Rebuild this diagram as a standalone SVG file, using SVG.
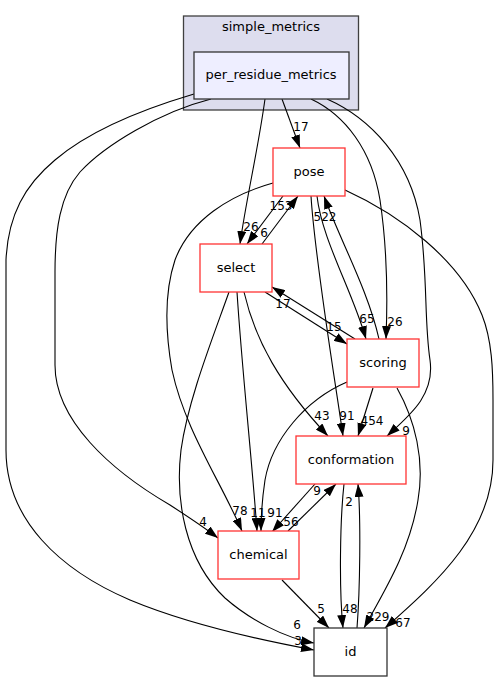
<svg xmlns="http://www.w3.org/2000/svg" width="499" height="681" viewBox="0 0 499 681">
<defs>
<style>
.nt{font-family:"DejaVu Sans","Liberation Sans",sans-serif;font-size:13px;text-anchor:middle;fill:#000}
.el{font-family:"DejaVu Sans","Liberation Sans",sans-serif;font-size:12px;text-anchor:middle;fill:#000}
.red{fill:#fff;stroke:#ff3333;stroke-width:1.3}
.blk{fill:#fff;stroke:#333333;stroke-width:1.3}
.e{fill:none;stroke:#000;stroke-width:1.1;marker-end:url(#ah)}
</style>
<marker id="ah" viewBox="0 0 13 9" refX="13" refY="4.5" markerWidth="13" markerHeight="9" markerUnits="userSpaceOnUse" orient="auto">
<path d="M0,0 L13,4.5 L0,9 z" fill="#000"/>
</marker>
</defs>
<rect width="499" height="681" fill="#fff"/>
<g id="cluster_simple_metrics">
<rect x="183.5" y="16" width="175" height="94" fill="#ddddee" stroke="#404040" stroke-width="1.3"/>
<text class="nt" x="271" y="31">simple_metrics</text>
</g>
<g id="connectors">
<path class="e" d="M282,99 L300,148"/>
<path class="e" d="M265,99 C258,150 246,200 240,244"/>
<path class="e" d="M311,99 C345,115 372,150 380,200 C386,240 388,290 386,339"/>
<path class="e" d="M327,99 C370,118 410,160 420,220 C428,280 424,320 430,360 C435,395 410,415 387,436"/>
<path class="e" d="M211,99 C160,112 105,145 80,172 C60,195 55,230 55,272 L55,365 C55,420 110,470 170,505 C190,518 205,528 218,538"/>
<path class="e" d="M194,94 C140,110 90,130 55,160 C25,185 8,215 6,260 L6,450 C6,520 60,570 130,600 C190,625 260,640 314,650"/>
<path class="e" d="M283,196 L247,244"/>
<path class="e" d="M262,244 L298,196"/>
<path class="e" d="M317,196 C322,240 352,290 366,339"/>
<path class="e" d="M379,339 C368,290 340,240 324,196"/>
<path class="e" d="M311,196 C315,260 335,380 343,436"/>
<path class="e" d="M273,183 C230,195 190,220 175,260 C165,290 165,330 172,370 C185,430 220,480 242,531"/>
<path class="e" d="M345,190 C400,215 460,260 482,315 C492,340 493,370 493,400 L493,460 C493,530 440,580 385,628"/>
<path class="e" d="M265,292 L347,344"/>
<path class="e" d="M355,339 L272,287"/>
<path class="e" d="M244,292 C255,340 280,385 328,436"/>
<path class="e" d="M237,292 C242,370 252,460 257,531"/>
<path class="e" d="M229,292 C212,340 188,400 181,450 C175,500 185,560 225,598 C250,620 285,638 314,643"/>
<path class="e" d="M373,388 L358,436"/>
<path class="e" d="M347,382 C305,400 272,440 265,480 C262,500 261,515 261,531"/>
<path class="e" d="M397,388 C415,420 425,460 418,500 C410,550 385,590 364,628"/>
<path class="e" d="M315,484 L272,532"/>
<path class="e" d="M288,531 L336,484"/>
<path class="e" d="M344,484 C340,520 339,590 343,628"/>
<path class="e" d="M357,628 C360,590 361,520 358,484"/>
<path class="e" d="M282,580 L329,628"/>
<text class="el" x="301" y="131">17</text>
<text class="el" x="251" y="231">26</text>
<text class="el" x="264" y="237">6</text>
<text class="el" x="281" y="210">153</text>
<text class="el" x="325" y="221">522</text>
<text class="el" x="367" y="323">65</text>
<text class="el" x="395" y="326">26</text>
<text class="el" x="283" y="308">17</text>
<text class="el" x="334" y="331">15</text>
<text class="el" x="322" y="420">43</text>
<text class="el" x="347" y="420">91</text>
<text class="el" x="372" y="425">454</text>
<text class="el" x="406" y="435">9</text>
<text class="el" x="317" y="495">9</text>
<text class="el" x="349" y="506">2</text>
<text class="el" x="240" y="515">78</text>
<text class="el" x="203" y="526">4</text>
<text class="el" x="258" y="517">11</text>
<text class="el" x="275" y="517">91</text>
<text class="el" x="291" y="526">56</text>
<text class="el" x="321" y="613">5</text>
<text class="el" x="350" y="613">48</text>
<text class="el" x="378" y="621">229</text>
<text class="el" x="403" y="627">67</text>
<text class="el" x="297" y="629">6</text>
<text class="el" x="298" y="645">3</text>
</g>
<g id="per_residue_metrics">
<rect x="194" y="52" width="155" height="47" fill="#eeeeff" stroke="#333333" stroke-width="1.3"/>
<text class="nt" x="271" y="79">per_residue_metrics</text>
</g>
<g id="pose">
<rect class="red" x="273" y="148" width="72" height="48"/>
<text class="nt" x="309" y="176">pose</text>
</g>
<g id="select">
<rect class="red" x="200" y="244" width="72" height="48"/>
<text class="nt" x="236" y="272">select</text>
</g>
<g id="scoring">
<rect class="red" x="347" y="339" width="72" height="48"/>
<text class="nt" x="383" y="367">scoring</text>
</g>
<g id="conformation">
<rect class="red" x="296" y="436" width="110" height="48"/>
<text class="nt" x="351" y="464">conformation</text>
</g>
<g id="chemical">
<rect class="red" x="218" y="531" width="81" height="48"/>
<text class="nt" x="258.5" y="559">chemical</text>
</g>
<g id="id">
<rect class="blk" x="314" y="628" width="73" height="48"/>
<text class="nt" x="350.5" y="656">id</text>
</g>
</svg>
